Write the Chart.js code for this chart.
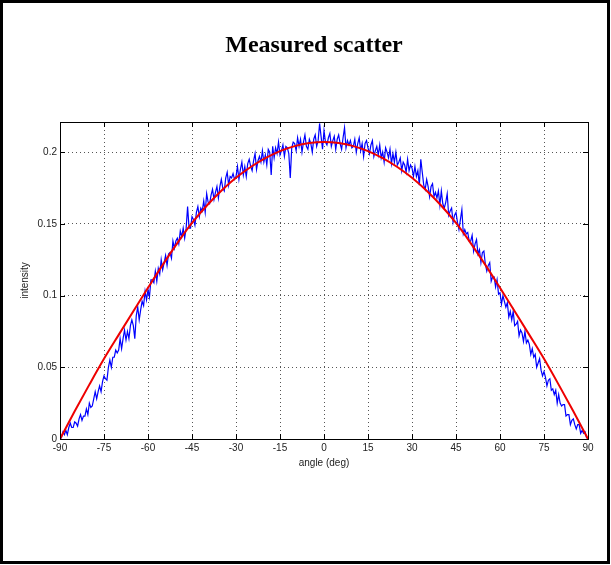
<!DOCTYPE html>
<html>
<head>
<meta charset="utf-8">
<script src="https://cdn.jsdelivr.net/npm/chart.js@4.4.0/dist/chart.umd.min.js"></script>
<style>
html,body{margin:0;padding:0;background:#fff;}
#wrap{position:relative;width:611px;height:565px;}
</style>
</head>
<body>
<div id="wrap"><canvas id="c" width="611" height="565"></canvas></div>
<script>
const titleText = 'Measured scatter';
const xTitle = 'angle (deg)';
const yTitle = 'intensity';
const xTicks = [-90,-75,-60,-45,-30,-15,0,15,30,45,60,75,90];
const yTicks = [0,0.05,0.1,0.15,0.2];

const angles = [
-90,-89.5,-89,-88.5,-88,-87.5,-87,-86.5,-86,-85.5,
-85,-84.5,-84,-83.5,-83,-82.5,-82,-81.5,-81,-80.5,
-80,-79.5,-79,-78.5,-78,-77.5,-77,-76.5,-76,-75.5,
-75,-74.5,-74,-73.5,-73,-72.5,-72,-71.5,-71,-70.5,
-70,-69.5,-69,-68.5,-68,-67.5,-67,-66.5,-66,-65.5,
-65,-64.5,-64,-63.5,-63,-62.5,-62,-61.5,-61,-60.5,
-60,-59.5,-59,-58.5,-58,-57.5,-57,-56.5,-56,-55.5,
-55,-54.5,-54,-53.5,-53,-52.5,-52,-51.5,-51,-50.5,
-50,-49.5,-49,-48.5,-48,-47.5,-47,-46.5,-46,-45.5,
-45,-44.5,-44,-43.5,-43,-42.5,-42,-41.5,-41,-40.5,
-40,-39.5,-39,-38.5,-38,-37.5,-37,-36.5,-36,-35.5,
-35,-34.5,-34,-33.5,-33,-32.5,-32,-31.5,-31,-30.5,
-30,-29.5,-29,-28.5,-28,-27.5,-27,-26.5,-26,-25.5,
-25,-24.5,-24,-23.5,-23,-22.5,-22,-21.5,-21,-20.5,
-20,-19.5,-19,-18.5,-18,-17.5,-17,-16.5,-16,-15.5,
-15,-14.5,-14,-13.5,-13,-12.5,-12,-11.5,-11,-10.5,
-10,-9.5,-9,-8.5,-8,-7.5,-7,-6.5,-6,-5.5,
-5,-4.5,-4,-3.5,-3,-2.5,-2,-1.5,-1,-0.5,
0,0.5,1,1.5,2,2.5,3,3.5,4,4.5,
5,5.5,6,6.5,7,7.5,8,8.5,9,9.5,
10,10.5,11,11.5,12,12.5,13,13.5,14,14.5,
15,15.5,16,16.5,17,17.5,18,18.5,19,19.5,
20,20.5,21,21.5,22,22.5,23,23.5,24,24.5,
25,25.5,26,26.5,27,27.5,28,28.5,29,29.5,
30,30.5,31,31.5,32,32.5,33,33.5,34,34.5,
35,35.5,36,36.5,37,37.5,38,38.5,39,39.5,
40,40.5,41,41.5,42,42.5,43,43.5,44,44.5,
45,45.5,46,46.5,47,47.5,48,48.5,49,49.5,
50,50.5,51,51.5,52,52.5,53,53.5,54,54.5,
55,55.5,56,56.5,57,57.5,58,58.5,59,59.5,
60,60.5,61,61.5,62,62.5,63,63.5,64,64.5,
65,65.5,66,66.5,67,67.5,68,68.5,69,69.5,
70,70.5,71,71.5,72,72.5,73,73.5,74,74.5,
75,75.5,76,76.5,77,77.5,78,78.5,79,79.5,
80,80.5,81,81.5,82,82.5,83,83.5,84,84.5,
85,85.5,86,86.5,87,87.5,88,88.5,89,89.5,
90];

const measured = [
0.002,0.001,0.005,0.003,0.006,0.003,0.008,0.011,0.008,0.008,
0.012,0.011,0.009,0.014,0.017,0.013,0.016,0.016,0.021,0.017,
0.025,0.022,0.023,0.028,0.033,0.028,0.033,0.037,0.033,0.040,
0.044,0.042,0.041,0.050,0.055,0.050,0.057,0.057,0.062,0.060,
0.062,0.070,0.063,0.070,0.076,0.069,0.075,0.070,0.079,0.083,
0.079,0.070,0.086,0.092,0.083,0.090,0.096,0.093,0.103,0.097,
0.104,0.099,0.111,0.111,0.109,0.117,0.110,0.119,0.115,0.125,
0.118,0.123,0.128,0.121,0.129,0.130,0.126,0.138,0.133,0.138,
0.140,0.136,0.145,0.141,0.147,0.140,0.147,0.162,0.147,0.147,
0.155,0.153,0.149,0.158,0.162,0.155,0.161,0.159,0.166,0.158,
0.171,0.165,0.164,0.170,0.174,0.167,0.172,0.176,0.168,0.176,
0.181,0.175,0.173,0.182,0.186,0.177,0.183,0.182,0.185,0.181,
0.183,0.190,0.181,0.188,0.193,0.184,0.190,0.183,0.192,0.195,
0.190,0.187,0.194,0.199,0.188,0.194,0.197,0.193,0.201,0.193,
0.198,0.191,0.202,0.200,0.184,0.204,0.196,0.203,0.199,0.207,
0.198,0.201,0.205,0.197,0.204,0.203,0.199,0.182,0.203,0.207,
0.206,0.201,0.210,0.204,0.209,0.200,0.207,0.212,0.204,0.202,
0.209,0.206,0.200,0.209,0.212,0.204,0.208,0.220,0.211,0.202,
0.215,0.207,0.205,0.210,0.213,0.204,0.208,0.211,0.202,0.209,
0.212,0.206,0.202,0.210,0.217,0.203,0.208,0.205,0.208,0.203,
0.204,0.209,0.200,0.206,0.210,0.201,0.206,0.197,0.206,0.208,
0.203,0.199,0.205,0.208,0.197,0.201,0.204,0.198,0.205,0.196,
0.200,0.193,0.203,0.200,0.196,0.202,0.192,0.199,0.193,0.200,
0.191,0.193,0.196,0.187,0.193,0.191,0.186,0.195,0.187,0.191,
0.189,0.183,0.190,0.183,0.187,0.177,0.195,0.186,0.177,0.174,
0.181,0.176,0.169,0.176,0.178,0.169,0.172,0.168,0.173,0.163,
0.173,0.164,0.161,0.165,0.171,0.156,0.159,0.161,0.151,0.156,
0.158,0.151,0.146,0.153,0.160,0.143,0.146,0.143,0.144,0.138,
0.138,0.142,0.131,0.136,0.139,0.129,0.132,0.123,0.130,0.131,
0.122,0.117,0.121,0.123,0.110,0.113,0.113,0.106,0.111,0.101,
0.102,0.094,0.100,0.096,0.092,0.095,0.085,0.089,0.083,0.089,
0.079,0.080,0.082,0.072,0.076,0.074,0.068,0.075,0.067,0.069,
0.066,0.059,0.063,0.057,0.059,0.050,0.053,0.056,0.048,0.044,
0.047,0.043,0.037,0.041,0.042,0.034,0.035,0.031,0.034,0.025,
0.031,0.025,0.023,0.024,0.024,0.016,0.017,0.017,0.010,0.013,
0.014,0.010,0.007,0.010,0.010,0.004,0.006,0.004,0.005,0.001,
0.001];

const fitAngles = [-90,-85,-80,-75,-70,-65,-60,-55,-50,-45,-40,-35,-30,-25,-20,-15,-10,-5,0,5,10,15,20,25,30,35,40,45,50,55,60,65,70,75,80,85,90];
const fitValues = [0,0.0193,0.0379,0.0559,0.0726,0.0891,0.1054,0.1214,0.1366,0.1506,0.1626,0.1731,0.1821,0.1896,0.1958,0.2007,0.2042,0.2063,0.2070,0.2063,0.2042,0.2007,0.1958,0.1896,0.1821,0.1731,0.1626,0.1506,0.1366,0.1214,0.1054,0.0891,0.0726,0.0559,0.0379,0.0193,0];

const measuredPts = angles.map((a,i)=>({x:a,y:measured[i]}));
const fitPts = fitAngles.map((a,i)=>({x:a,y:fitValues[i]}));

const deco = {
  id:'deco',
  beforeDraw(chart){
    const ctx = chart.ctx;
    ctx.save();
    ctx.fillStyle='#fff';
    ctx.fillRect(0,0,chart.width,chart.height);
    ctx.restore();
  },
  afterDraw(chart){
    const ctx = chart.ctx;
    const a = chart.chartArea;
    const xs = chart.scales.x, ys = chart.scales.y;
    ctx.save();
    ctx.strokeStyle='#000';
    ctx.lineWidth=1;
    ctx.strokeRect(Math.round(a.left)+0.5, Math.round(a.top)+0.5, Math.round(a.right-a.left), Math.round(a.bottom-a.top));
    ctx.beginPath();
    xTicks.forEach(v=>{
      const px = Math.round(xs.getPixelForValue(v))+0.5;
      ctx.moveTo(px,a.bottom); ctx.lineTo(px,a.bottom-5);
      ctx.moveTo(px,a.top); ctx.lineTo(px,a.top+5);
    });
    yTicks.forEach(v=>{
      const py = Math.round(ys.getPixelForValue(v))+0.5;
      ctx.moveTo(a.left,py); ctx.lineTo(a.left+5,py);
      ctx.moveTo(a.right,py); ctx.lineTo(a.right-5,py);
    });
    ctx.stroke();
    ctx.lineWidth=3;
    ctx.strokeRect(1.5,1.5,chart.width-4,chart.height-4);
    ctx.fillStyle='#000';
    ctx.font='bold 24px "Liberation Serif", "Times New Roman", serif';
    ctx.textAlign='center';
    ctx.textBaseline='middle';
    ctx.fillText(titleText, 314, 46);
    ctx.restore();
  }
};

new Chart(document.getElementById('c'), {
  type:'line',
  data:{
    datasets:[
      {label:'measured', data:measuredPts, borderColor:'#0000ff', borderWidth:1.2, pointRadius:0, tension:0, order:2},
      {label:'fit', data:fitPts, borderColor:'#ee0000', borderWidth:2, pointRadius:0, cubicInterpolationMode:'monotone', order:1}
    ]
  },
  plugins:[deco],
  options:{
    responsive:false,
    animation:false,
    devicePixelRatio:1,
    layout:{padding:{left:15,top:122,right:23,bottom:92}},
    plugins:{legend:{display:false}, tooltip:{enabled:false}, title:{display:false}},
    scales:{
      x:{
        type:'linear', min:-90, max:90,
        afterFit(s){ s.height = 34; },
        afterBuildTicks(s){ s.ticks = xTicks.map(v=>({value:v})); },
        ticks:{ font:{family:'"Liberation Sans", Arial, sans-serif', size:10}, color:'#222', padding:3, maxRotation:0, autoSkip:false },
        grid:{ color:'#555', lineWidth:1, drawTicks:false },
        border:{ display:false, dash:[1,3] },
        title:{ display:true, text:xTitle, font:{family:'"Liberation Sans", Arial, sans-serif', size:10}, color:'#222', padding:{top:2,bottom:4} }
      },
      y:{
        type:'linear', min:0, max:0.221,
        afterFit(s){ s.width = 45; },
        afterBuildTicks(s){ s.ticks = yTicks.map(v=>({value:v})); },
        ticks:{ font:{family:'"Liberation Sans", Arial, sans-serif', size:10}, color:'#222', padding:3, callback:v=>String(+v.toFixed(3)) },
        grid:{ color:'#555', lineWidth:1, drawTicks:false },
        border:{ display:false, dash:[1,3] },
        title:{ display:true, text:yTitle, font:{family:'"Liberation Sans", Arial, sans-serif', size:10}, color:'#222', padding:{top:4,bottom:2} }
      }
    }
  }
});
</script>
</body>
</html>
